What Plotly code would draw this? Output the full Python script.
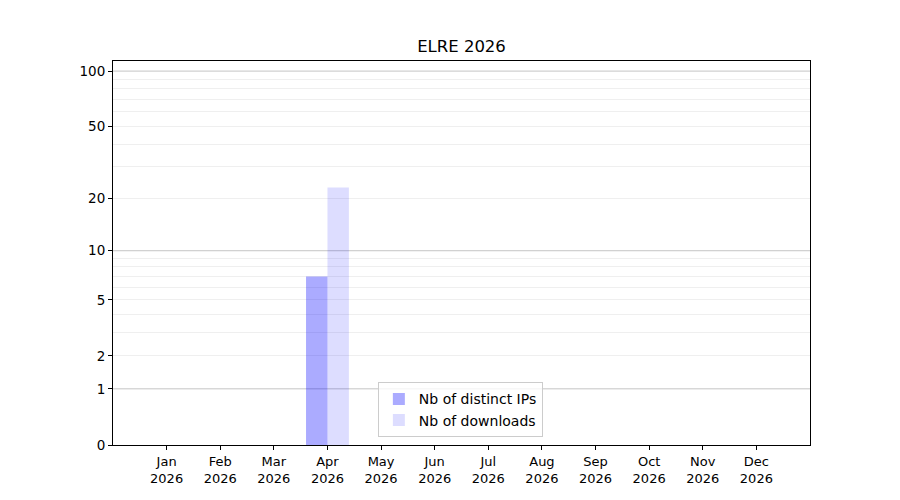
import numpy as np
import plotly.graph_objects as go

# monthly stats
months = ["Jan", "Feb", "Mar", "Apr", "May", "Jun", "Jul", "Aug", "Sep", "Oct", "Nov", "Dec"]
year = "2026"
distinct_ips = [0, 0, 0, 7, 0, 0, 0, 0, 0, 0, 0, 0]
downloads = [0, 0, 0, 23, 0, 0, 0, 0, 0, 0, 0, 0]

y_ticks = [0, 1, 2, 5, 10, 20, 50, 100]
major_grid = [1, 10, 100]
minor_grid = [2, 3, 4, 5, 6, 7, 8, 9, 20, 30, 40, 50, 60, 70, 80, 90]


# y axis looks like log10(1 + x)
def tr(v):
    return np.log10(1 + np.asarray(v, dtype=float))


labels = [f"{m}<br>{year}" for m in months]

fig = go.Figure()
fig.add_trace(go.Bar(
    x=labels, y=tr(distinct_ips),
    name="Nb of distinct IPs",
    marker=dict(color="rgba(0,0,255,0.33)", line=dict(width=0)),
    hovertext=[str(v) for v in distinct_ips], hoverinfo="text"
))
fig.add_trace(go.Bar(
    x=labels, y=tr(downloads),
    name="Nb of downloads",
    marker=dict(color="rgba(0,0,255,0.135)", line=dict(width=0)),
    hovertext=[str(v) for v in downloads], hoverinfo="text"
))

# darker grid lines at the decades
for v in major_grid:
    fig.add_shape(type="line", xref="paper", x0=0, x1=1, yref="y", y0=tr(v), y1=tr(v),
                  line=dict(color="#c4c4c4", width=1), layer="below")

fig.update_layout(
    title=dict(text="ELRE 2026", xref="paper", x=0.5, xanchor="center",
               y=0.924, yanchor="middle",
               font=dict(size=16.5, color="black")),
    barmode="group",
    bargap=0.2,
    bargroupgap=0,
    width=900,
    height=500,
    margin=dict(l=105, r=98, t=53, b=63),
    plot_bgcolor="white",
    paper_bgcolor="white",
    font=dict(family="DejaVu Sans", size=13, color="black"),
    legend=dict(x=0.38, y=0.02, xanchor="left", yanchor="bottom",
                bordercolor="#cccccc", borderwidth=1, bgcolor="rgba(255,255,255,0.8)",
                font=dict(size=14)),
    xaxis=dict(range=[-1, 12], showline=True, linecolor="black", mirror=True,
               ticks="outside", ticklen=4, tickcolor="black", showgrid=False),
    yaxis=dict(range=[0, tr(100) * 1.027], showline=True, linecolor="black", mirror=True,
               ticks="outside", ticklen=4, tickcolor="black", zeroline=False,
               tickmode="array", tickvals=tr(y_ticks), ticktext=[str(t) for t in y_ticks],
               tickfont=dict(size=13.5),
               showgrid=False,
               minor=dict(tickmode="array", tickvals=tr(minor_grid), showgrid=True,
                          gridcolor="#efefef", gridwidth=1, ticks="")),
)

fig.write_html("out.html")
